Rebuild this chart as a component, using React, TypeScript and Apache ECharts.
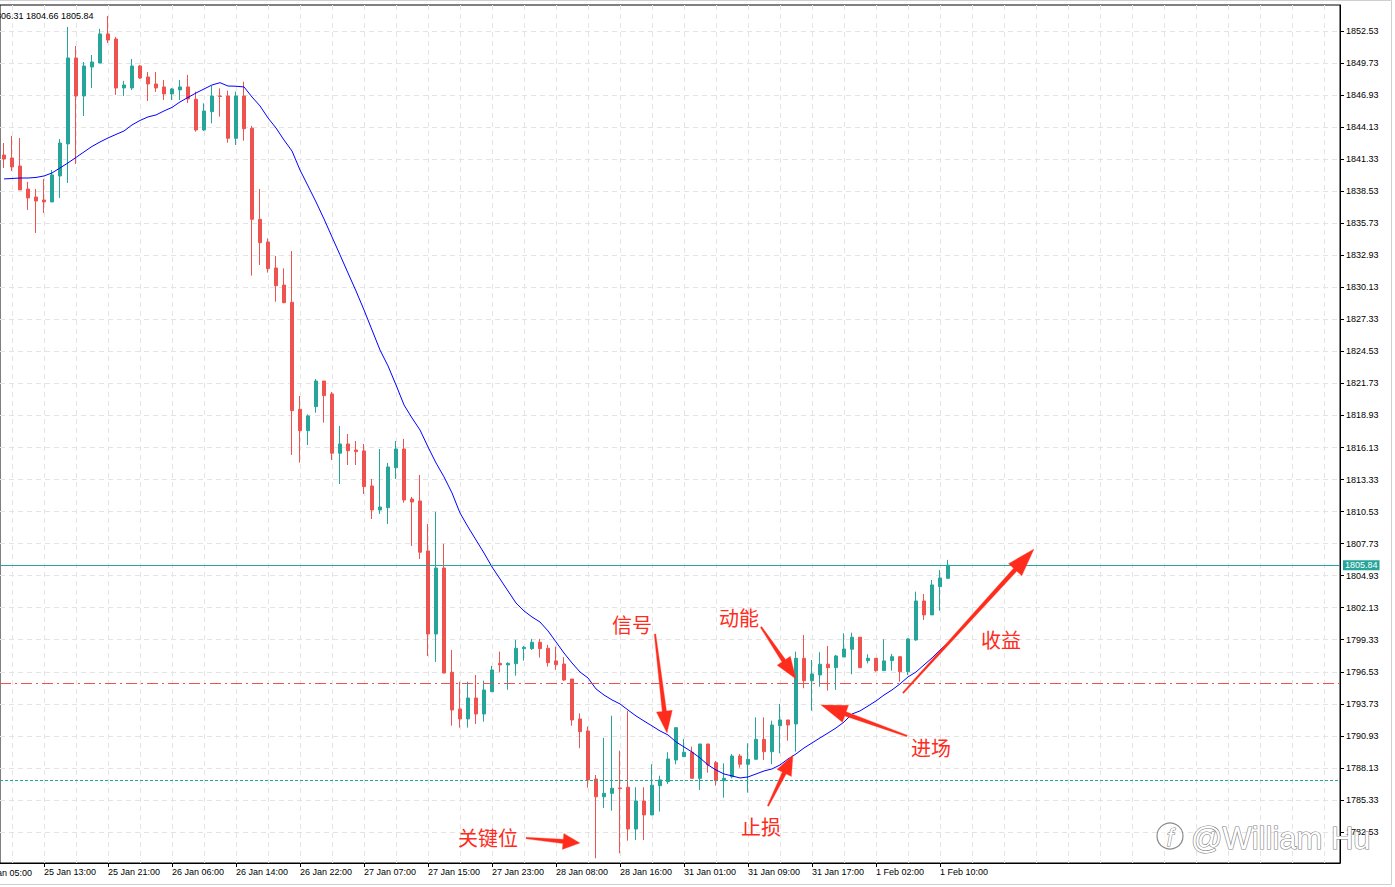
import { useEffect, useRef } from 'react';
import * as echarts from 'echarts';

// H1 candles, left to right (index 0 = 25 Jan 08:00)
const openPrices = [
  1841.69, 1841.43, 1840.73, 1838.72, 1838.02, 1837.76, 1837.59, 1839.86, 1842.66, 1850.17,
  1846.85, 1849.38, 1849.73, 1852.27, 1851.83, 1847.55, 1847.55, 1849.47, 1848.51, 1847.9,
  1847.64, 1847.03, 1847.38, 1847.64, 1846.56, 1843.88, 1845.48, 1846.85, 1846.85, 1843.15,
  1846.85, 1844.03, 1836.07, 1834.09, 1831.82, 1830.33, 1828.82, 1819.47, 1817.6, 1819.7,
  1821.94, 1820.81, 1815.63, 1816.44, 1815.91, 1815.83, 1812.77, 1810.67, 1810.87, 1814.37,
  1816.0, 1811.63, 1811.46, 1807.09, 1799.83, 1805.6, 1796.49, 1793.28, 1792.41, 1794.24,
  1792.84, 1794.79, 1797.27, 1797.13, 1797.24, 1798.55, 1798.55, 1799.11, 1798.58, 1797.48,
  1797.21, 1795.9, 1792.41, 1791.36, 1787.16, 1785.61, 1785.91, 1786.38, 1786.44, 1782.79,
  1785.24, 1784.02, 1786.58, 1786.93, 1788.82, 1789.11, 1789.5, 1787.22, 1790.22, 1788.59,
  1787.01, 1787.36, 1789.17, 1788.45, 1788.88, 1790.63, 1789.55, 1791.82, 1792.32, 1791.97,
  1797.71, 1795.75, 1796.25, 1797.19, 1796.89, 1797.82, 1798.5, 1799.55, 1797.5, 1797.71,
  1796.63, 1797.5, 1797.85, 1796.54, 1799.31, 1802.72, 1801.5, 1803.97, 1804.7,
];
const closePrices = [
  1841.34, 1840.65, 1838.64, 1837.94, 1837.67, 1837.59, 1839.95, 1842.74, 1850.17, 1846.85,
  1849.47, 1849.82, 1852.27, 1851.74, 1847.55, 1847.81, 1849.47, 1848.42, 1847.9, 1847.55,
  1847.03, 1847.46, 1847.64, 1846.59, 1843.88, 1845.54, 1846.85, 1846.81, 1843.15, 1846.85,
  1843.99, 1836.07, 1834.03, 1831.76, 1830.27, 1828.79, 1819.35, 1817.6, 1818.89, 1821.94,
  1820.66, 1815.63, 1816.44, 1815.85, 1815.77, 1812.71, 1810.67, 1810.93, 1814.43, 1816.0,
  1811.54, 1811.37, 1806.98, 1799.83, 1805.6, 1796.42, 1793.19, 1792.41, 1794.24, 1792.84,
  1794.94, 1796.69, 1797.13, 1797.27, 1798.58, 1798.67, 1799.11, 1798.55, 1797.33, 1797.15,
  1795.81, 1792.32, 1791.3, 1787.08, 1785.61, 1785.91, 1786.35, 1786.32, 1782.79, 1785.24,
  1784.02, 1786.62, 1787.08, 1788.91, 1791.65, 1789.5, 1787.22, 1790.22, 1788.39, 1787.01,
  1787.22, 1789.17, 1788.45, 1788.88, 1790.63, 1789.55, 1791.88, 1792.32, 1791.88, 1797.71,
  1795.75, 1796.34, 1797.19, 1796.89, 1797.91, 1798.52, 1799.55, 1796.89, 1797.71, 1796.63,
  1797.48, 1797.85, 1796.54, 1799.4, 1802.72, 1801.5, 1804.12, 1804.73, 1805.84,
];
const lowPrices = [
  1840.56, 1840.3, 1838.64, 1836.89, 1834.88, 1836.63, 1837.59, 1837.94, 1839.25, 1840.91,
  1845.1, 1847.55, 1849.73, 1851.48, 1846.94, 1846.85, 1847.37, 1848.34, 1846.41, 1847.2,
  1846.5, 1846.5, 1846.5, 1846.24, 1843.73, 1843.79, 1844.46, 1845.04, 1842.77, 1842.57,
  1842.94, 1831.15, 1832.08, 1831.41, 1828.87, 1828.73, 1815.48, 1814.81, 1816.35, 1819.17,
  1818.3, 1815.04, 1812.94, 1814.6, 1814.6, 1812.07, 1809.88, 1810.32, 1809.45, 1813.38,
  1811.31, 1807.53, 1806.39, 1797.91, 1797.39, 1796.4, 1791.82, 1791.65, 1791.65, 1791.97,
  1792.17, 1794.79, 1796.49, 1794.96, 1796.19, 1797.5, 1798.44, 1797.77, 1796.98, 1796.69,
  1795.73, 1791.82, 1789.85, 1786.4, 1780.23, 1784.63, 1784.39, 1780.67, 1781.77, 1781.83,
  1781.83, 1784.02, 1784.31, 1786.73, 1788.45, 1789.11, 1787.22, 1786.2, 1787.71, 1786.58,
  1785.53, 1787.22, 1788.15, 1785.97, 1788.88, 1788.82, 1788.45, 1789.41, 1790.51, 1789.55,
  1795.09, 1793.13, 1795.23, 1794.88, 1794.94, 1797.82, 1796.31, 1796.89, 1797.27, 1796.54,
  1796.63, 1796.63, 1795.67, 1796.25, 1799.25, 1801.06, 1801.5, 1801.87, 1804.66,
];
const highPrices = [
  1842.74, 1843.35, 1843.18, 1839.34, 1838.72, 1839.6, 1840.38, 1843.09, 1852.88, 1851.22,
  1849.82, 1850.43, 1852.71, 1853.84, 1852.01, 1848.16, 1850.08, 1849.56, 1848.95, 1848.95,
  1848.25, 1847.55, 1848.25, 1848.69, 1847.23, 1846.21, 1847.72, 1847.52, 1847.31, 1847.23,
  1848.1, 1844.23, 1838.72, 1834.41, 1832.87, 1831.79, 1833.3, 1820.63, 1819.03, 1822.12,
  1821.94, 1820.98, 1818.01, 1817.31, 1816.7, 1816.44, 1813.38, 1816.0, 1814.78, 1816.7,
  1816.88, 1811.81, 1813.73, 1809.45, 1810.5, 1807.7, 1798.44, 1795.66, 1795.66, 1796.25,
  1795.75, 1797.04, 1798.29, 1797.36, 1799.31, 1798.79, 1799.4, 1799.4, 1798.88, 1798.73,
  1797.8, 1795.9, 1792.9, 1791.74, 1787.51, 1790.75, 1792.69, 1789.64, 1793.11, 1786.44,
  1786.44, 1788.45, 1787.45, 1789.5, 1791.65, 1790.66, 1789.99, 1790.22, 1790.22, 1788.74,
  1788.53, 1789.35, 1789.35, 1790.28, 1792.55, 1792.55, 1792.26, 1793.72, 1792.32, 1798.29,
  1799.75, 1797.56, 1798.24, 1798.79, 1798.0, 1799.89, 1799.95, 1799.55, 1798.06, 1797.71,
  1799.37, 1798.09, 1797.85, 1799.46, 1803.53, 1803.33, 1804.55, 1805.43, 1806.31,
];
// moving average (blue), read per candle
const maValues = [
  1839.6, 1839.64, 1839.68, 1839.68, 1839.73, 1839.86, 1840.12, 1840.56, 1841.0, 1841.48,
  1841.96, 1842.44, 1842.83, 1843.18, 1843.49, 1843.79, 1844.32, 1844.71, 1845.02, 1845.19,
  1845.54, 1845.85, 1846.33, 1846.72, 1847.11, 1847.46, 1847.81, 1848.01, 1847.72, 1847.7,
  1847.64, 1846.76, 1845.98, 1844.93, 1844.05, 1843.0, 1842.04, 1840.38, 1838.99, 1837.59,
  1836.1, 1834.53, 1832.96, 1831.38, 1829.81, 1828.15, 1826.4, 1824.65, 1823.26, 1821.6,
  1819.85, 1818.71, 1817.66, 1816.18, 1814.78, 1813.56, 1812.16, 1810.41, 1809.19, 1808.05,
  1806.91, 1805.69, 1804.64, 1803.59, 1802.54, 1801.85, 1801.32, 1800.88, 1800.1, 1799.14,
  1798.17, 1797.3, 1796.51, 1795.99, 1795.03, 1794.5, 1794.07, 1793.72, 1793.19, 1792.67,
  1792.23, 1791.8, 1791.36, 1791.01, 1790.4, 1789.96, 1789.52, 1789.0, 1788.39, 1787.95,
  1787.6, 1787.43, 1787.25, 1787.34, 1787.6, 1787.86, 1788.04, 1788.39, 1788.91, 1789.35,
  1789.87, 1790.31, 1790.75, 1791.18, 1791.62, 1792.14, 1792.84, 1793.11, 1793.54, 1793.98,
  1794.5, 1794.94, 1795.47, 1796.08, 1796.51, 1797.13, 1797.74, 1798.44, 1799.05,
];

// first label (index -3) sits left of the visible plot, only its tail shows
const xTickIndex = [-3, 5, 13, 21, 29, 37, 45, 53, 61, 69, 77, 85, 93, 101, 109, 117];
const xTickLabels = [
  '25 Jan 05:00', '25 Jan 13:00', '25 Jan 21:00', '26 Jan 06:00', '26 Jan 14:00',
  '26 Jan 22:00', '27 Jan 07:00', '27 Jan 15:00', '27 Jan 23:00', '28 Jan 08:00',
  '28 Jan 16:00', '31 Jan 01:00', '31 Jan 09:00', '31 Jan 17:00', '1 Feb 02:00', '1 Feb 10:00',
];
const yTicks = [
  1782.53, 1785.33, 1788.13, 1790.93, 1793.73, 1796.53, 1799.33, 1802.13, 1804.93, 1807.73,
  1810.53, 1813.33, 1816.13, 1818.93, 1821.73, 1824.53, 1827.33, 1830.13, 1832.93, 1835.73,
  1838.53, 1841.33, 1844.13, 1846.93, 1849.73, 1852.53,
];
const lastPrice = 1805.84;
const keyLevel = 1795.52;
const stopLevel = 1787.08;
const ohlcText = '1806.31 1804.66 1805.84';

const RED = '#ff2b1c';
const FONT = '"Liberation Sans", Arial, sans-serif';
const CJK = '"Noto Sans CJK SC", sans-serif';
const X_MIN = -0.5;
const X_MAX = 167;

function arrowPoints(x1: number, y1: number, x2: number, y2: number, head: number, half: number) {
  const dx = x2 - x1;
  const dy = y2 - y1;
  const len = Math.sqrt(dx * dx + dy * dy);
  const ux = dx / len;
  const uy = dy / len;
  const nx = -uy;
  const ny = ux;
  const bx = x2 - ux * head;
  const by = y2 - uy * head;
  return [
    [x1 + nx * 0.8, y1 + ny * 0.8],
    [bx + nx * 2.2, by + ny * 2.2],
    [bx + nx * half, by + ny * half],
    [x2, y2],
    [bx - nx * half, by - ny * half],
    [bx - nx * 2.2, by - ny * 2.2],
    [x1 - nx * 0.8, y1 - ny * 0.8],
  ];
}

function arrow(x1: number, y1: number, x2: number, y2: number, head: number, half: number) {
  return {
    type: 'polygon',
    z: 100,
    silent: true,
    shape: { points: arrowPoints(x1, y1, x2, y2, head, half) },
    style: { fill: RED, stroke: 'rgba(255,80,60,0.35)', lineWidth: 1 },
  };
}

function label(text: string, x: number, y: number) {
  return {
    type: 'text',
    z: 100,
    silent: true,
    x,
    y,
    style: { text, fill: RED, font: `20px ${CJK}`, align: 'center', verticalAlign: 'middle' },
  };
}

export default function App() {
  const chartRef = useRef<HTMLDivElement>(null);

  useEffect(() => {
    if (!chartRef.current) return;
    const chart = echarts.init(chartRef.current, undefined, { renderer: 'svg' });

    const candles = openPrices.map((o, i) => [i, o, closePrices[i], lowPrices[i], highPrices[i]]);
    const ma = maValues.map((v, i) => [i, v]);
    const visibleTicks = xTickIndex.filter((t) => t > X_MIN);

    // vertical grid every 4 bars, aligned with the time ticks
    const gridLines: number[] = [];
    for (let v = 1; v <= X_MAX; v += 4) gridLines.push(v);

    const option = {
      animation: false,
      backgroundColor: '#fff',
      grid: {
        left: 0,
        right: 55,
        top: 5,
        bottom: 24,
        show: true,
        borderColor: '#000',
        borderWidth: 1,
        backgroundColor: '#fff',
      },
      xAxis: [
        {
          type: 'value',
          min: X_MIN,
          max: X_MAX,
          position: 'bottom',
          axisLine: { show: true, onZero: false, lineStyle: { color: '#000', width: 1 } },
          axisTick: { show: true, length: 4, customValues: visibleTicks, lineStyle: { color: '#000' } },
          axisLabel: {
            customValues: visibleTicks,
            formatter: (v: number) => {
              const k = xTickIndex.findIndex((t) => Math.abs(t - v) < 0.01);
              return k >= 0 ? xTickLabels[k] : '';
            },
            align: 'left',
            margin: 4,
            color: '#000',
            fontSize: 9,
            fontFamily: FONT,
          },
          splitLine: { show: false },
        },
        {
          type: 'value',
          min: X_MIN,
          max: X_MAX,
          position: 'top',
          axisLine: { show: false, onZero: false },
          axisTick: { show: false, customValues: gridLines },
          axisLabel: { show: false },
          splitLine: { show: true, lineStyle: { color: '#e4e4e4', type: [5, 4], width: 1 } },
        },
      ],
      yAxis: {
        type: 'value',
        position: 'right',
        min: 1779.82,
        max: 1854.8,
        axisLine: { show: true, onZero: false, lineStyle: { color: '#000', width: 1 } },
        axisTick: { show: true, length: 4, customValues: yTicks, lineStyle: { color: '#000' } },
        axisLabel: {
          customValues: yTicks,
          formatter: (v: number) => v.toFixed(2),
          margin: 6,
          color: '#000',
          fontSize: 9,
          fontFamily: FONT,
        },
        splitLine: { show: true, lineStyle: { color: '#e4e4e4', type: [5, 4], width: 1 } },
      },
      series: [
        {
          type: 'candlestick',
          xAxisIndex: 0,
          data: candles,
          barWidth: 4,
          itemStyle: {
            color: '#26a69a',
            color0: '#ef5350',
            borderColor: '#26a69a',
            borderColor0: '#ef5350',
            borderWidth: 1,
          },
          markLine: {
            silent: true,
            symbol: 'none',
            animation: false,
            data: [
              {
                yAxis: lastPrice,
                lineStyle: { color: '#26a69a', type: 'solid', width: 1 },
                label: {
                  show: true,
                  position: 'end',
                  distance: 3,
                  formatter: lastPrice.toFixed(2),
                  backgroundColor: '#26a69a',
                  color: '#fff',
                  fontSize: 9,
                  fontFamily: FONT,
                  padding: [1, 2, 0, 2],
                },
              },
              {
                yAxis: keyLevel,
                lineStyle: { color: '#ef5350', type: [11, 4, 2, 4], width: 1 },
                label: { show: false },
              },
              {
                yAxis: stopLevel,
                lineStyle: { color: '#26a69a', type: [3, 2], width: 1 },
                label: { show: false },
              },
            ],
          },
        },
        {
          type: 'line',
          xAxisIndex: 0,
          data: ma,
          showSymbol: false,
          symbol: 'none',
          lineStyle: { color: '#0000ff', width: 1 },
          z: 3,
        },
      ],
      graphic: [
        {
          type: 'rect',
          z: 0,
          silent: true,
          shape: { x: -1, y: 0.5, width: 1392.5, height: 884 },
          style: { fill: 'none', stroke: '#cfcfcf', lineWidth: 1 },
        },
        {
          type: 'text',
          z: 100,
          silent: true,
          x: -20,
          y: 868,
          style: { text: xTickLabels[0], fill: '#000', font: `9px ${FONT}`, verticalAlign: 'top' },
        },
        {
          type: 'text',
          z: 100,
          silent: true,
          x: -9,
          y: 15.5,
          style: { text: ohlcText, fill: '#000', font: `9px ${FONT}`, verticalAlign: 'middle' },
        },
        label('关键位', 488, 837),
        arrow(526, 838, 580, 843, 17, 8),
        label('信号', 632, 624),
        arrow(655, 634, 667, 733, 22, 8),
        label('动能', 739, 617),
        arrow(761, 627, 796, 679, 22, 8),
        label('止损', 761, 826),
        arrow(768, 806, 793, 755, 20, 8),
        label('进场', 931, 747),
        arrow(907, 736, 821, 705, 26, 9),
        label('收益', 1001, 639),
        arrow(903, 693, 1034, 549, 28, 9),
        {
          type: 'circle',
          z: 110,
          silent: true,
          shape: { cx: 1170, cy: 836, r: 13 },
          style: { fill: 'rgba(255,255,255,0.6)', stroke: '#8a8a8a', lineWidth: 1.2 },
        },
        {
          type: 'text',
          z: 111,
          silent: true,
          x: 1170,
          y: 837,
          style: {
            text: 'f',
            fill: '#fff',
            stroke: '#7a7a7a',
            lineWidth: 1,
            font: `italic 24px ${FONT}`,
            align: 'center',
            verticalAlign: 'middle',
          },
        },
        {
          type: 'text',
          z: 110,
          silent: true,
          x: 1191,
          y: 838,
          style: {
            text: '@William Hu',
            fill: '#fff',
            stroke: '#7f7f7f',
            lineWidth: 1.2,
            font: `31px ${FONT}`,
            verticalAlign: 'middle',
          },
        },
      ],
    };

    chart.setOption(option as any);

    return () => {
      chart.dispose();
    };
  }, []);

  return (
    <div
      ref={chartRef}
      style={{ position: 'fixed', left: 0, top: 0, width: 1395, height: 887, background: '#fff' }}
    />
  );
}
